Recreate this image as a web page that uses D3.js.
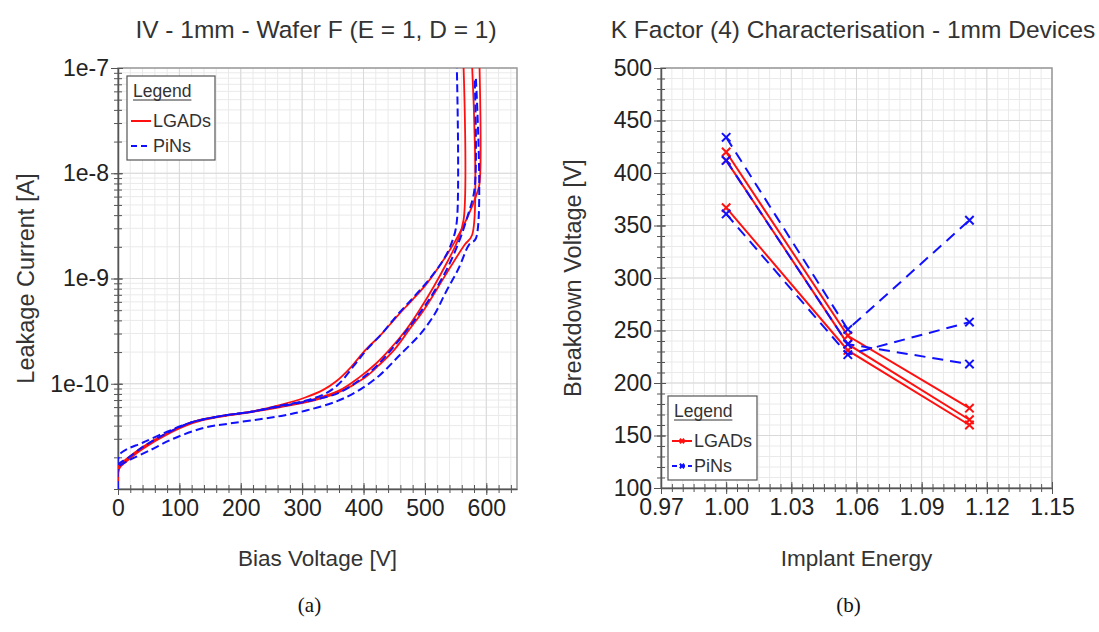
<!DOCTYPE html>
<html>
<head>
<meta charset="utf-8">
<script src="https://cdn.jsdelivr.net/npm/d3@7"></script>
<style>
  body { margin: 0; background: #fff; }
  svg { display: block; font-family: "Liberation Sans", Arial, sans-serif; }
</style>
</head>
<body>
<svg id="fig" width="1099" height="632"></svg>
<script>
"use strict";

// ---------- data : (a) IV curves, [bias V, current A] ----------
const ivLgadA = [[0, 1.0e-11], [0, 1.5e-11], [2, 1.7e-11], [10, 1.85e-11], [40, 2.5e-11], [80, 3.4e-11],
  [120, 4.3e-11], [165, 4.9e-11], [215, 5.4e-11], [265, 6.3e-11], [305, 7.4e-11], [335, 8.8e-11],
  [355, 1.05e-10], [380, 1.45e-10], [400, 2.0e-10], [430, 3.0e-10], [455, 4.4e-10], [480, 6.3e-10],
  [502, 8.8e-10], [525, 1.35e-9], [550, 2.3e-9], [570, 3.9e-9], [585, 6.5e-9], [589, 8e-9], [589, 1e-7]];
const ivLgadB = [[0, 1.0e-11], [0, 1.45e-11], [3, 1.65e-11], [10, 1.8e-11], [40, 2.45e-11], [80, 3.35e-11],
  [120, 4.3e-11], [165, 4.9e-11], [215, 5.4e-11], [265, 6.1e-11], [318, 7.1e-11], [360, 8.6e-11],
  [393, 1.15e-10], [420, 1.55e-10], [442, 2.1e-10], [470, 3.3e-10], [491, 5.0e-10], [515, 8.5e-10],
  [534, 1.35e-9], [552, 2.2e-9], [563, 3.6e-9], [563, 1e-7]];
const ivLgadC = [[0, 1.0e-11], [0, 1.4e-11], [3, 1.6e-11], [10, 1.75e-11], [40, 2.4e-11], [80, 3.3e-11],
  [120, 4.2e-11], [165, 4.85e-11], [215, 5.35e-11], [265, 6.0e-11], [318, 6.9e-11], [360, 8.3e-11],
  [400, 1.12e-10], [425, 1.5e-10], [450, 2.1e-10], [475, 3.3e-10], [498, 5.0e-10], [520, 8.0e-10],
  [542, 1.3e-9], [565, 2.1e-9], [577, 2.6e-9], [577, 1e-7]];
const ivPinA = [[0, 1.0e-11], [0, 1.9e-11], [5, 2.2e-11], [15, 2.4e-11], [40, 2.75e-11], [80, 3.5e-11],
  [120, 4.3e-11], [165, 4.9e-11], [215, 5.4e-11], [265, 6.2e-11], [310, 7.0e-11], [340, 8.2e-11],
  [360, 1.0e-10], [385, 1.5e-10], [405, 2.1e-10], [430, 3.0e-10], [455, 4.5e-10], [480, 6.5e-10],
  [505, 9.5e-10], [530, 1.5e-9], [545, 2.3e-9], [552, 3.5e-9], [552, 1e-7]];
const ivPinB = [[0, 1.0e-11], [0, 1.7e-11], [5, 1.8e-11], [15, 1.95e-11], [40, 2.5e-11], [80, 3.4e-11],
  [120, 4.3e-11], [165, 4.9e-11], [215, 5.4e-11], [265, 6.1e-11], [318, 7.0e-11], [360, 8.2e-11],
  [395, 1.1e-10], [420, 1.45e-10], [445, 2.1e-10], [470, 3.2e-10], [495, 5.0e-10], [515, 7.5e-10],
  [535, 1.2e-9], [555, 2.2e-9], [570, 4.0e-9], [581, 7.2e-9], [581, 8e-8]];
const ivPinC = [[0, 1.0e-11], [0, 1.6e-11], [5, 1.7e-11], [20, 1.9e-11], [50, 2.3e-11], [90, 3.0e-11],
  [139, 3.8e-11], [183, 4.2e-11], [231, 4.6e-11], [270, 5.0e-11], [308, 5.6e-11], [356, 6.8e-11],
  [390, 8.5e-11], [426, 1.2e-10], [460, 1.9e-10], [491, 2.9e-10], [515, 4.5e-10], [534, 7.4e-10],
  [555, 1.25e-9], [572, 2.1e-9], [583, 2.4e-9], [583, 8e-8]];

const ivXTicks = [0, 100, 200, 300, 400, 500, 600];
const ivYTicks = [1e-7, 1e-8, 1e-9, 1e-10];

// ---------- data : (b) breakdown voltage vs implant energy ----------
const keEnergy = [1.0, 1.056, 1.112];
const keLgadVbd = [[420, 245, 176], [412, 237, 165], [367, 231, 160]];
const kePinVbd = [[434, 251, 355], [412, 237, 218], [361, 227, 258]];

const keXTicks = [0.97, 1.00, 1.03, 1.06, 1.09, 1.12, 1.15];
const keYTicks = [100, 150, 200, 250, 300, 350, 400, 450, 500];

const RED = '#ff1010', BLUE = '#1010ff';
const svg = d3.select('#fig');

function drawPanel(opt) {
  const x = opt.x, y = opt.y;
  const [x0, x1] = x.range(), [y0, y1] = y.range();
  const g = svg.append('g');

  // grid
  const grid = g.append('g');
  grid.selectAll('.vm').data(opt.xMinor).join('line')
    .attr('x1', d => x(d)).attr('x2', d => x(d)).attr('y1', y1).attr('y2', y0)
    .attr('stroke', '#eaeaea');
  grid.selectAll('.hm').data(opt.yMinor).join('line')
    .attr('y1', d => y(d)).attr('y2', d => y(d)).attr('x1', x0).attr('x2', x1)
    .attr('stroke', '#eaeaea');
  grid.selectAll('.vM').data(opt.xTicks).join('line')
    .attr('x1', d => x(d)).attr('x2', d => x(d)).attr('y1', y1).attr('y2', y0)
    .attr('stroke', '#d9d9d9');
  grid.selectAll('.hM').data(opt.yGrid).join('line')
    .attr('y1', d => y(d)).attr('y2', d => y(d)).attr('x1', x0).attr('x2', x1)
    .attr('stroke', '#d9d9d9');

  g.append('rect')
    .attr('x', x0).attr('y', y1).attr('width', x1 - x0).attr('height', y0 - y1)
    .attr('fill', 'none').attr('stroke', '#9a9a9a').attr('stroke-width', 1.5);

  // minor ticks
  g.append('g').attr('transform', `translate(0,${y0})`)
    .call(d3.axisBottom(x).tickValues(opt.xMinor).tickFormat('').tickSize(4).tickSizeOuter(0))
    .call(s => s.select('.domain').remove())
    .selectAll('.tick line').attr('y1', -4).attr('stroke', '#555');
  g.append('g').attr('transform', `translate(${x0},0)`)
    .call(d3.axisLeft(y).tickValues(opt.yMinor).tickFormat('').tickSize(4).tickSizeOuter(0))
    .call(s => s.select('.domain').remove())
    .selectAll('.tick line').attr('x1', 4).attr('stroke', '#555');

  // major ticks + labels
  const xa = g.append('g').attr('transform', `translate(0,${y0})`)
    .call(d3.axisBottom(x).tickValues(opt.xTicks).tickFormat(opt.xFmt).tickSize(6).tickSizeOuter(0).tickPadding(5));
  xa.selectAll('.tick line').attr('y1', -6).attr('stroke', '#555');
  const ya = g.append('g').attr('transform', `translate(${x0},0)`)
    .call(d3.axisLeft(y).tickValues(opt.yTicks).tickFormat(opt.yFmt).tickSize(7).tickSizeOuter(0).tickPadding(2));
  ya.selectAll('.tick line').attr('x1', 5).attr('stroke', '#555');
  [xa, ya].forEach(a => {
    a.attr('font-family', null).attr('font-size', 23);
    a.select('.domain').attr('stroke', '#555').attr('stroke-width', 1.5);
    a.selectAll('.tick text').attr('fill', '#222');
  });

  // titles
  const cx = (x0 + x1) / 2, cy = (y0 + y1) / 2;
  svg.append('text').attr('x', opt.titleX).attr('y', 38).attr('text-anchor', 'middle')
    .attr('font-size', 24.5).attr('fill', '#333').text(opt.title);
  svg.append('text').attr('x', cx).attr('y', 566).attr('text-anchor', 'middle')
    .attr('font-size', 22.5).attr('fill', '#333').text(opt.xLabel);
  svg.append('text').attr('transform', `translate(${opt.yLabelX},${cy}) rotate(-90)`)
    .attr('text-anchor', 'middle').attr('font-size', 23.5).attr('fill', '#333').text(opt.yLabel);
  svg.append('text').attr('x', cx - 8).attr('y', 612).attr('text-anchor', 'middle')
    .attr('font-family', '"Liberation Serif", "Times New Roman", serif')
    .attr('font-size', 21).attr('fill', '#111').text(opt.caption);

  const clipId = 'clip' + opt.caption.replace(/\W/g, '');
  g.append('clipPath').attr('id', clipId).append('rect')
    .attr('x', x0).attr('y', y1).attr('width', x1 - x0).attr('height', y0 - y1);
  return g.append('g').attr('clip-path', `url(#${clipId})`);
}

function drawLegend(lx, ly, w, h, withMarker) {
  const lg = svg.append('g').attr('transform', `translate(${lx},${ly})`);
  lg.append('rect').attr('width', w).attr('height', h)
    .attr('fill', '#fff').attr('stroke', '#555').attr('stroke-width', 1.2);
  const t = lg.append('text').attr('x', 6).attr('y', 21).attr('font-size', 17.5).attr('fill', '#333').text('Legend');
  const tw = t.node().getComputedTextLength();
  lg.append('line').attr('x1', 6).attr('x2', 6 + tw).attr('y1', 24).attr('y2', 24).attr('stroke', '#333');
  const items = [{ name: 'LGADs', color: RED, dash: null }, { name: 'PiNs', color: BLUE, dash: withMarker ? '5,3' : '6,4' }];
  items.forEach((it, i) => {
    const yy = 45 + i * 25;
    lg.append('line').attr('x1', 4).attr('x2', 24).attr('y1', yy).attr('y2', yy)
      .attr('stroke', it.color).attr('stroke-width', 2).attr('stroke-dasharray', it.dash);
    if (withMarker) {
      lg.append('path').attr('transform', `translate(14,${yy})`)
        .attr('d', d3.symbol(d3.symbolX, 14)()).attr('stroke', it.color).attr('stroke-width', 2);
    }
    lg.append('text').attr('x', 26).attr('y', yy + 6).attr('font-size', 18).attr('fill', '#333').text(it.name);
  });
}

// ================= (a) =================
const ivX = d3.scaleLinear().domain([0, 650]).range([118, 517]);
const ivY = d3.scaleLog().domain([1e-11, 1e-7]).range([489, 68]);
const ivYMinor = [];
[-11, -10, -9, -8].forEach(e => d3.range(1, 10).forEach(k => ivYMinor.push(k * Math.pow(10, e))));

const ivPlot = drawPanel({
  x: ivX, y: ivY,
  xTicks: ivXTicks, xMinor: d3.range(0, 651, 20),
  yTicks: ivYTicks, yGrid: ivYTicks, yMinor: ivYMinor,
  xFmt: d => d, yFmt: d => '1e' + Math.round(Math.log10(d)),
  title: 'IV - 1mm - Wafer F (E = 1, D = 1)', titleX: 316,
  xLabel: 'Bias Voltage [V]', yLabel: 'Leakage Current [A]', yLabelX: 34,
  caption: '(a)'
});

const ivLine = d3.line().x(d => ivX(d[0])).y(d => ivY(d[1])).curve(d3.curveCatmullRom.alpha(0.5));
[ivLgadA, ivLgadB, ivLgadC].forEach(s => {
  ivPlot.append('path').attr('d', ivLine(s)).attr('fill', 'none')
    .attr('stroke', RED).attr('stroke-width', 1.8);
});
[ivPinA, ivPinB, ivPinC].forEach(s => {
  ivPlot.append('path').attr('d', ivLine(s)).attr('fill', 'none')
    .attr('stroke', BLUE).attr('stroke-width', 2).attr('stroke-dasharray', '8,4');
});
drawLegend(127, 76, 88, 84, false);

// ================= (b) =================
const keX = d3.scaleLinear().domain([0.97, 1.15]).range([661, 1052]);
const keY = d3.scaleLinear().domain([100, 500]).range([488, 68]);

const kePlot = drawPanel({
  x: keX, y: keY,
  xTicks: keXTicks, xMinor: d3.range(0, 37).map(i => 0.97 + i * 0.005),
  yTicks: keYTicks, yGrid: keYTicks, yMinor: d3.range(100, 501, 10),
  xFmt: d3.format('.2f'), yFmt: d => d,
  title: 'K Factor (4) Characterisation - 1mm Devices', titleX: 853,
  xLabel: 'Implant Energy', yLabel: 'Breakdown Voltage [V]', yLabelX: 581,
  caption: '(b)'
});

const keLine = d3.line().x(d => keX(d[0])).y(d => keY(d[1]));
const keMarker = d3.symbol(d3.symbolX, 48)();
function drawKe(rows, color, dash) {
  rows.forEach(r => {
    const pts = keEnergy.map((e, i) => [e, r[i]]);
    kePlot.append('path').attr('d', keLine(pts)).attr('fill', 'none')
      .attr('stroke', color).attr('stroke-width', 2).attr('stroke-dasharray', dash);
    kePlot.selectAll(null).data(pts).join('path')
      .attr('transform', d => `translate(${keX(d[0])},${keY(d[1])})`)
      .attr('d', keMarker).attr('stroke', color).attr('stroke-width', 2);
  });
}
drawKe(keLgadVbd, RED, null);
drawKe(kePinVbd, BLUE, '11,7');
drawLegend(668, 396, 89, 84, true);
</script>
</body>
</html>
